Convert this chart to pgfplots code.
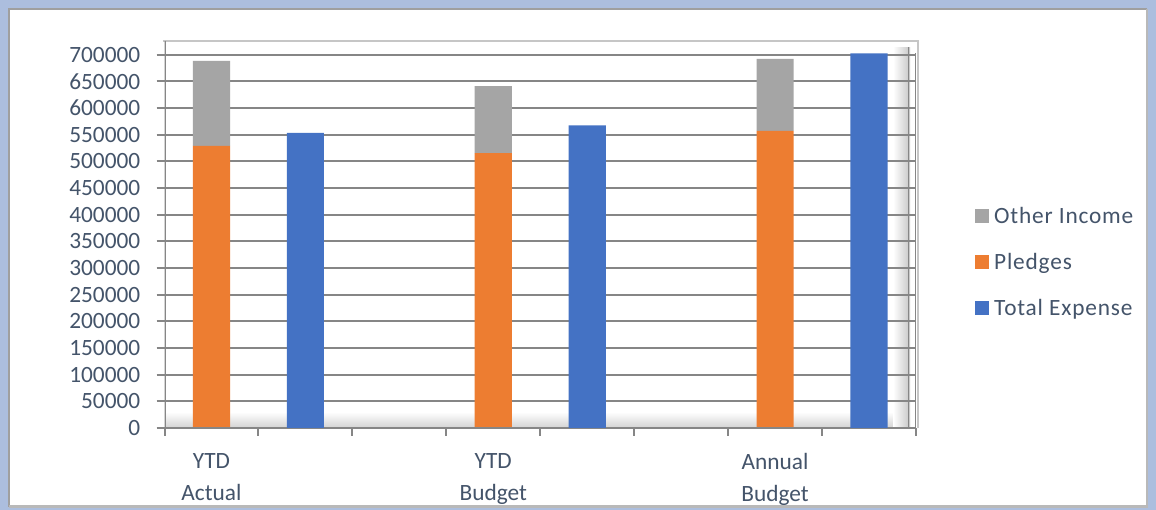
\documentclass[border=0pt]{standalone}
\usepackage{fontspec}
\setmainfont{Carlito}
\usepackage{pgfplots}
\pgfplotsset{compat=1.18}
\definecolor{txt}{RGB}{68,84,106}
\definecolor{grd}{RGB}{134,134,134}
\definecolor{cOr}{RGB}{237,125,49}
\definecolor{cGr}{RGB}{165,165,165}
\definecolor{cBl}{RGB}{68,114,196}
\definecolor{bgb}{RGB}{172,190,222}
\newcommand\lf{\fontsize{17.5pt}{24pt}\selectfont}
\newcommand\lgf{\fontsize{17.5pt}{24pt}\selectfont\addfontfeature{LetterSpace=3.5}}
\pgfplotsset{
  common/.style={
    at={(O)}, anchor=origin, scale only axis,
    width=563.6pt, height=290.1pt,
    xmin=0, xmax=8, ymin=0, ymax=725000,
    bar width=0.395,
  }
}
\begin{document}
\begin{tikzpicture}[x=0.75pt,y=0.75pt]
\useasboundingbox (0,0) rectangle (1156,510);
\coordinate (O) at (164.5,82);
\fill[bgb] (0,0) rectangle (1156,510);
\fill[white] (8,3) rectangle (1148,501);
\draw[gray!75, line width=1.2pt] (9,3) -- (9,501) -- (1147,501);
\draw[gray!55, line width=2pt] (9,3.5) -- (1147,3.5) -- (1147,501);
% plot area frame and shadows
\shade[top color=white, bottom color=gray!35] (166,82) rectangle (910,98);
\shade[left color=white, right color=gray!45] (893,82) rectangle (910,462);
\draw[gray!45, line width=1.2pt] (163,469) -- (918,469) -- (918,82);
\begin{axis}[common,
  ybar stacked,
  axis line style={draw=none},
  ytick={0,50000,...,700000},
  xtick={0,...,8}, xticklabels={},
  ytick pos=left, xtick pos=bottom,
  tick align=outside, major tick length=6pt,
  tick style={grd, line width=1.5pt},
  ymajorgrids, major grid style={grd, line width=1.5pt},
  scaled y ticks=false,
  yticklabel style={font=\lf, text=txt, anchor=east, inner sep=0pt, xshift=-12pt,
    /pgf/number format/fixed, /pgf/number format/set thousands separator={},
    /pgf/number format/assume math mode=true},
  extra x ticks={0.5,3.5,6.5},
  extra x tick labels={YTD\\Actual, YTD\\Budget, Annual\\Budget},
  extra x tick style={major tick length=0pt, grid=none,
    xticklabel style={font=\lf, text=txt, align=center, anchor=north, inner sep=0pt, yshift=-19pt}},
]
\draw[grd, line width=1.8pt] (rel axis cs:0,0) -- (rel axis cs:0,1);
\draw[grd, line width=1.5pt] (rel axis cs:0,0) -- (rel axis cs:1,0);
\draw[grd, line width=1.5pt] (rel axis cs:1,0) -- (rel axis cs:1,0.97);
\draw[grd, line width=1.2pt] (axis cs:7.92,0) -- (axis cs:7.92,715000);
\addplot[fill=cOr, draw=none] coordinates {(0.5,529000) (3.5,515000) (6.5,557000)};
\addplot[fill=cGr, draw=none] coordinates {(0.5,159000) (3.5,126000) (6.5,135000)};
\end{axis}
\begin{axis}[common,
  ybar, hide axis,
  legend style={at={(1.078,0.429)}, anchor=west, draw=none, fill=none,
    font=\lgf, text=txt, inner sep=0pt, row sep=16.75pt, cells={anchor=west},
    nodes={inner xsep=4pt}},
  legend image code/.code={\fill[#1] (0pt,-5.25pt) rectangle (10.5pt,5.25pt);},
]
\addlegendimage{fill=cGr, draw=none}
\addlegendentry{Other Income}
\addlegendimage{fill=cOr, draw=none}
\addlegendentry{Pledges}
\addplot[fill=cBl, draw=none] coordinates {(1.5,553000) (4.5,567000) (7.5,702000)};
\addlegendentry{Total Expense}
\end{axis}
\end{tikzpicture}
\end{document}
